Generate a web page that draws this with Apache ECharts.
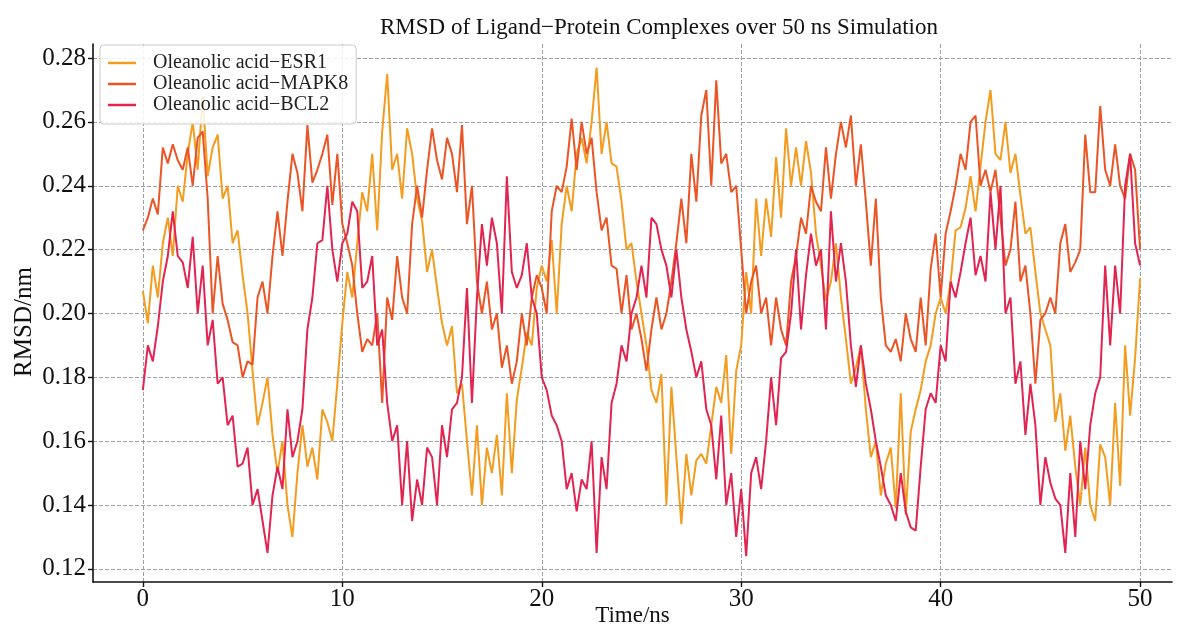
<!DOCTYPE html>
<html>
<head>
<meta charset="utf-8">
<script src="https://cdn.jsdelivr.net/npm/echarts@6/dist/echarts.min.js"></script>
<style>
html,body{margin:0;padding:0;background:#fff;}
#chart{width:1180px;height:626px;}
</style>
</head>
<body>
<div id="chart"></div>
<script>
// Time step of samples (ns)
const timeStep = 0.25;
const seriesNames = ['Oleanolic acid\u2212ESR1', 'Oleanolic acid\u2212MAPK8', 'Oleanolic acid\u2212BCL2'];
const xTicks = [0, 10, 20, 30, 40, 50];
const yTicks = [0.12, 0.14, 0.16, 0.18, 0.20, 0.22, 0.24, 0.26, 0.28];

const esr1 = [
0.207,0.197,0.215,0.205,0.222,0.230,0.218,0.240,0.235,0.250,0.260,0.245,0.268,0.243,0.252,0.256,0.236,0.240,0.222,0.226,0.212,
0.200,0.182,0.165,0.172,0.180,0.162,0.150,0.160,0.140,0.130,0.150,0.165,0.152,0.158,0.148,0.170,0.166,0.160,0.178,0.197,
0.213,0.205,0.222,0.238,0.232,0.250,0.226,0.257,0.275,0.245,0.250,0.236,0.258,0.250,0.236,0.229,0.213,0.220,0.208,0.197,
0.190,0.196,0.175,0.178,0.160,0.143,0.165,0.140,0.158,0.150,0.162,0.143,0.175,0.150,0.173,0.183,0.194,0.190,0.208,0.215,
0.210,0.223,0.200,0.228,0.240,0.232,0.250,0.255,0.247,0.260,0.277,0.250,0.260,0.247,0.246,0.235,0.220,0.222,0.210,0.200,
0.190,0.176,0.172,0.181,0.140,0.177,0.155,0.134,0.156,0.143,0.154,0.156,0.153,0.165,0.177,0.172,0.187,0.156,0.182,0.190,
0.213,0.200,0.236,0.218,0.236,0.224,0.249,0.230,0.258,0.240,0.252,0.240,0.254,0.244,0.225,0.215,0.204,0.210,0.222,0.205,
0.192,0.178,0.183,0.190,0.170,0.155,0.160,0.143,0.153,0.158,0.139,0.175,0.137,0.163,0.170,0.176,0.185,0.190,0.200,0.205,
0.200,0.210,0.226,0.227,0.233,0.243,0.232,0.246,0.260,0.270,0.250,0.248,0.260,0.244,0.250,0.237,0.225,0.227,0.213,0.200,
0.195,0.190,0.166,0.175,0.157,0.168,0.152,0.140,0.158,0.140,0.135,0.159,0.155,0.140,0.172,0.146,0.190,0.168,0.186,0.211
];

const mapk8 = [
0.226,0.230,0.236,0.231,0.252,0.247,0.253,0.248,0.245,0.252,0.240,0.255,0.257,0.236,0.200,0.218,0.203,0.198,0.191,0.190,0.180,
0.185,0.184,0.205,0.210,0.200,0.218,0.232,0.218,0.235,0.250,0.244,0.232,0.259,0.241,0.245,0.250,0.256,0.234,0.250,0.228,
0.222,0.215,0.200,0.188,0.192,0.190,0.200,0.172,0.205,0.198,0.218,0.205,0.200,0.228,0.240,0.230,0.245,0.258,0.248,0.242,
0.255,0.250,0.238,0.259,0.228,0.240,0.210,0.200,0.210,0.195,0.200,0.183,0.190,0.178,0.185,0.200,0.190,0.205,0.212,0.208,
0.200,0.232,0.240,0.238,0.246,0.261,0.245,0.260,0.250,0.255,0.238,0.226,0.230,0.215,0.214,0.200,0.212,0.195,0.200,0.192,
0.182,0.195,0.205,0.195,0.200,0.210,0.222,0.236,0.222,0.250,0.235,0.262,0.270,0.240,0.273,0.247,0.250,0.238,0.240,0.220,
0.200,0.210,0.215,0.200,0.205,0.190,0.205,0.195,0.190,0.210,0.218,0.230,0.225,0.240,0.235,0.232,0.252,0.236,0.250,0.260,
0.252,0.262,0.240,0.253,0.235,0.215,0.236,0.205,0.190,0.188,0.192,0.185,0.200,0.192,0.188,0.205,0.190,0.214,0.225,0.205,
0.225,0.232,0.240,0.250,0.245,0.260,0.262,0.240,0.245,0.238,0.245,0.230,0.215,0.220,0.235,0.210,0.215,0.200,0.178,0.198,
0.200,0.205,0.200,0.222,0.228,0.213,0.216,0.220,0.256,0.238,0.238,0.265,0.245,0.240,0.253,0.240,0.236,0.250,0.245,0.220
];

const bcl2 = [
0.176,0.190,0.185,0.196,0.210,0.218,0.232,0.218,0.216,0.208,0.224,0.200,0.215,0.190,0.198,0.178,0.180,0.165,0.168,0.152,0.153,
0.158,0.140,0.145,0.135,0.125,0.143,0.152,0.145,0.170,0.155,0.160,0.170,0.195,0.205,0.222,0.223,0.240,0.220,0.210,0.222,
0.225,0.235,0.232,0.208,0.210,0.218,0.190,0.195,0.172,0.160,0.165,0.140,0.160,0.135,0.148,0.140,0.158,0.155,0.140,0.165,
0.155,0.170,0.172,0.180,0.208,0.172,0.205,0.228,0.215,0.230,0.222,0.200,0.243,0.213,0.208,0.212,0.222,0.205,0.200,0.180,
0.176,0.168,0.165,0.160,0.145,0.150,0.138,0.148,0.145,0.160,0.125,0.155,0.145,0.172,0.178,0.190,0.185,0.200,0.205,0.215,
0.205,0.230,0.228,0.220,0.215,0.205,0.220,0.205,0.195,0.188,0.180,0.185,0.170,0.165,0.148,0.168,0.140,0.150,0.130,0.145,
0.124,0.150,0.155,0.145,0.160,0.180,0.165,0.186,0.188,0.200,0.220,0.195,0.212,0.225,0.215,0.220,0.195,0.232,0.210,0.222,
0.210,0.190,0.177,0.190,0.178,0.170,0.160,0.152,0.143,0.140,0.135,0.150,0.138,0.133,0.132,0.152,0.170,0.175,0.172,0.190,
0.185,0.210,0.205,0.213,0.222,0.230,0.212,0.218,0.210,0.238,0.220,0.240,0.200,0.205,0.178,0.185,0.162,0.178,0.165,0.140,
0.155,0.147,0.142,0.140,0.125,0.150,0.130,0.160,0.145,0.165,0.175,0.180,0.215,0.190,0.215,0.200,0.240,0.250,0.222,0.215
];

const colors = ['#F39C1F', '#EB5424', '#E22450'];
const serif = '"Liberation Serif", "DejaVu Serif", serif';

function pairs(vals) {
  return vals.map((v, i) => [i * timeStep, v]);
}

const chart = echarts.init(document.getElementById('chart'), null, {renderer: 'canvas'});
const gridLine = {show: true, lineStyle: {color: '#a0a0a0', width: 1, type: [4, 2]}};
chart.setOption({
  animation: false,
  backgroundColor: '#ffffff',
  color: colors,
  title: {
    text: 'RMSD of Ligand\u2212Protein Complexes over 50 ns Simulation',
    left: 375, top: 11,
    textStyle: {fontFamily: serif, fontSize: 23, fontWeight: 'normal', color: '#111'}
  },
  legend: {
    orient: 'vertical', left: 100, top: 45,
    padding: [8, 8, 9, 8], itemGap: 1,
    itemWidth: 28, itemHeight: 2.5, icon: 'rect',
    backgroundColor: 'rgba(255,255,255,0.85)', borderColor: '#cccccc', borderWidth: 1, borderRadius: 4,
    formatter: '{a|{name}}',
    textStyle: {fontFamily: serif, fontSize: 20, color: '#222', rich: {a: {fontFamily: serif, fontSize: 20, color: '#222', padding: [0, 0, 0, 12], lineHeight: 20}}},
    data: seriesNames
  },
  grid: {left: 93, right: 8, top: 44, bottom: 44, containLabel: false, outerBoundsMode: 'none'},
  xAxis: {
    type: 'value', min: -2.5, max: 51.6,
    name: 'Time/ns', nameLocation: 'middle', nameGap: 22, nameMoveOverlap: false,
    nameTextStyle: {fontFamily: serif, fontSize: 23, color: '#111', lineHeight: 23},
    axisLine: {show: true, onZero: false, lineStyle: {color: '#111', width: 1.6}},
    axisTick: {show: true, customValues: xTicks, length: 5, lineStyle: {color: '#111', width: 1.4}},
    axisLabel: {customValues: xTicks, fontFamily: serif, fontSize: 25, color: '#111', margin: 5},
    splitLine: gridLine
  },
  yAxis: {
    type: 'value', min: 0.1159, max: 0.2844,
    name: 'RMSD/nm', nameLocation: 'middle', nameGap: 56, nameMoveOverlap: false,
    nameTextStyle: {fontFamily: serif, fontSize: 25, color: '#111', padding: [0, 18, 0, 0]},
    axisLine: {show: true, onZero: false, lineStyle: {color: '#111', width: 1.6}},
    axisTick: {show: true, customValues: yTicks, length: 5, lineStyle: {color: '#111', width: 1.4}},
    axisLabel: {customValues: yTicks, fontFamily: serif, fontSize: 25, color: '#111', margin: 7,
      formatter: v => v.toFixed(2)},
    splitLine: gridLine
  },
  series: [
    {name: seriesNames[0], type: 'line', data: pairs(esr1), showSymbol: false, lineStyle: {width: 2}, z: 2},
    {name: seriesNames[1], type: 'line', data: pairs(mapk8), showSymbol: false, lineStyle: {width: 2}, z: 3},
    {name: seriesNames[2], type: 'line', data: pairs(bcl2), showSymbol: false, lineStyle: {width: 2}, z: 4}
  ]
});
</script>
</body>
</html>
